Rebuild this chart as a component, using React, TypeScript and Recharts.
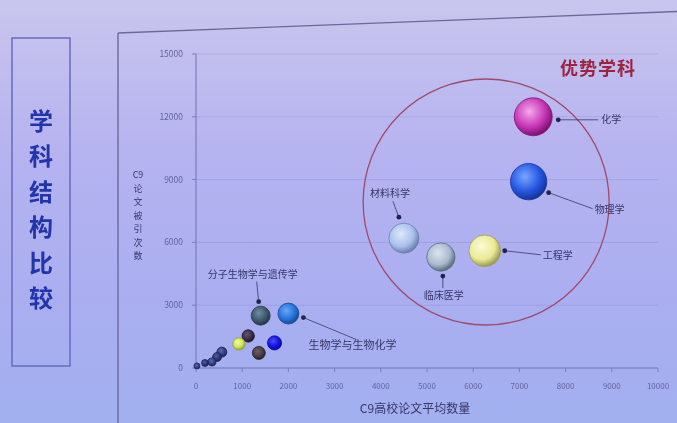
import { ScatterChart, Scatter, XAxis, YAxis, ZAxis, CartesianGrid, ReferenceDot } from "recharts";

// subjects: x = average paper count, y = citations, z = bubble weight
const SUBJECTS = [
  "化学", "物理学", "工程学", "材料科学", "临床医学",
  "生物学与生物化学", "分子生物学与遗传学",
  "", "", "", "", "", "", "", "", "",
];
const PAPERS = [7300, 7200, 6250, 4500, 5300, 2000, 1400, 1700, 1130, 930, 1360, 560, 455, 345, 195, 20];
const CITES = [12000, 8900, 5600, 6200, 5300, 2600, 2500, 1200, 1530, 1150, 720, 760, 525, 290, 240, 100];
const WEIGHT = [3600, 3300, 2500, 2250, 2000, 1100, 900, 500, 380, 380, 420, 250, 200, 160, 120, 90];

const X_TICKS = [0, 1000, 2000, 3000, 4000, 5000, 6000, 7000, 8000, 9000, 10000];
const Y_TICKS = [0, 3000, 6000, 9000, 12000, 15000];

const HIGHLIGHT = { x: 6280, y: 7930, label: "优势学科" };
const X_TITLE = "C9高校论文平均数量";
const Y_TITLE = ["C9", "论", "文", "被", "引", "次", "数"];

const data = SUBJECTS.map((name, i) => ({ idx: i, name, x: PAPERS[i], y: CITES[i], z: WEIGHT[i] }));

// [highlight, body, rim]
const COLORS = [
  ["#f4a8ec", "#c634b4", "#7e1270"],
  ["#7aa6ff", "#2456e2", "#17349a"],
  ["#fbfbd6", "#eaea96", "#9c9c52"],
  ["#dde8fa", "#a8c0ea", "#6a80b0"],
  ["#dde5ee", "#aabace", "#5a6e80"],
  ["#6aa8f4", "#2272da", "#1a4a90"],
  ["#6e8ca2", "#3c566a", "#263646"],
  ["#4a4aff", "#1212e2", "#0a0aa0"],
  ["#64546e", "#3c2c4a", "#20182a"],
  ["#f4ffa0", "#cce254", "#8aa040"],
  ["#6e5e64", "#4a3a42", "#2a2028"],
  ["#5a6ab6", "#303c82", "#202850"],
  ["#4e5aa6", "#2c3678", "#1c2448"],
  ["#5a6ab6", "#34408a", "#202850"],
  ["#4e5aa6", "#2c3678", "#1c2448"],
  ["#5a6ab6", "#34408a", "#202850"],
];

// leader-line offsets (px, relative to bubble centre)
const NOTES: Record<string, { dot: number[]; end: number[]; text: number[]; anchor: string; size?: number }> = {
  "化学": { dot: [25, 3], end: [65, 3], text: [68, 6], anchor: "start" },
  "物理学": { dot: [20, 11], end: [64, 27], text: [66, 31], anchor: "start" },
  "工程学": { dot: [20, 0], end: [56, 4], text: [58, 8], anchor: "start" },
  "材料科学": { dot: [-5, -21], end: [-11, -37], text: [-14, -41], anchor: "middle" },
  "临床医学": { dot: [2, 19], end: [2, 31], text: [3, 42], anchor: "middle" },
  "生物学与生物化学": { dot: [15, 4], end: [68, 26], text: [64, 35], anchor: "middle", size: 11 },
  "分子生物学与遗传学": { dot: [-2, -14], end: [-4, -34], text: [-8, -38], anchor: "middle" },
};

const INK = "#363668";
const FONT = "'Noto Sans CJK SC', 'Noto Sans', sans-serif";

function Bubble(props: any) {
  const { cx, cy, width, payload } = props;
  const r = width / 2;
  const c = COLORS[payload.idx];
  const id = `bub${payload.idx}`;
  const note = NOTES[payload.name];
  return (
    <g>
      <defs>
        <radialGradient id={id} cx="40%" cy="36%" r="64%">
          <stop offset="0%" stopColor={c[0]} />
          <stop offset="65%" stopColor={c[1]} />
          <stop offset="100%" stopColor={c[2]} />
        </radialGradient>
      </defs>
      <circle cx={cx} cy={cy} r={r} fill={`url(#${id})`} stroke={c[2]} strokeWidth={0.8} />
      {note && (
        <g>
          <line x1={cx + note.dot[0]} y1={cy + note.dot[1]} x2={cx + note.end[0]} y2={cy + note.end[1]} stroke={INK} strokeWidth={0.8} />
          <circle cx={cx + note.dot[0]} cy={cy + note.dot[1]} r={2.4} fill="#22224a" />
          <text x={cx + note.text[0]} y={cy + note.text[1]} textAnchor={note.anchor} fontSize={note.size || 10} fill={INK} fontFamily={FONT}>
            {payload.name}
          </text>
        </g>
      )}
    </g>
  );
}

function HighlightRing(props: any) {
  const { cx, cy } = props;
  return <circle cx={cx} cy={cy} r={123} fill="none" stroke="#a04a6a" strokeWidth={1.3} />;
}

export default function App() {
  return (
    <div
      style={{
        position: "absolute", left: 0, top: 0, width: 677, height: 423, overflow: "hidden",
        background: "linear-gradient(180deg, #c9c6ee 0%, #b6b3f0 35%, #aaaef0 70%, #a2b0f0 100%)",
        fontFamily: FONT, filter: "blur(0.4px)",
      }}
    >
      <svg width={677} height={423} style={{ position: "absolute", left: 0, top: 0 }}>
        <line x1={118} y1={33} x2={690} y2={11} stroke="#6a6a9a" strokeWidth={1.4} />
        <line x1={118} y1={33} x2={118} y2={423} stroke="#6a6a9a" strokeWidth={1.4} />
        <rect x={12} y={38} width={58} height={328} fill="none" stroke="#6a6ac0" strokeWidth={1.5} />
      </svg>
      <div style={{ position: "absolute", left: 12, top: 102, width: 58, textAlign: "center", fontSize: 24, fontWeight: 700, color: "#2234ac", lineHeight: "35.4px" }}>
        {"学科结构比较".split("").map((ch, i) => <div key={i}>{ch}</div>)}
      </div>
      <div style={{ position: "absolute", left: 560, top: 54, fontSize: 18, fontWeight: 700, color: "#9c2440", letterSpacing: 1 }}>
        {HIGHLIGHT.label}
      </div>
      <div style={{ position: "absolute", left: 0, top: 0 }}>
        <ScatterChart width={677} height={423} margin={{ top: 54, right: 19, left: 136, bottom: 25 }}>
          <CartesianGrid vertical={false} stroke="rgba(110,110,190,0.22)" />
          <XAxis
            type="number" dataKey="x" domain={[0, 10000]} ticks={X_TICKS} interval={0} height={30}
            tick={{ fontSize: 8, fill: "#62629e" }} tickSize={4} tickMargin={11}
            stroke="#7c7cbc" axisLine={{ stroke: "#7c7cbc", strokeWidth: 1.2 }}
            label={{
              content: ({ viewBox }: any) => (
                <text x={viewBox.x + viewBox.width / 2 - 12} y={viewBox.y + 45} textAnchor="middle" fontSize={12} fill={INK} fontFamily={FONT}>
                  {X_TITLE}
                </text>
              ),
            }}
          />
          <YAxis
            type="number" dataKey="y" domain={[0, 15000]} ticks={Y_TICKS} interval={0} width={60}
            tick={{ fontSize: 8.5, fill: "#62629e" }} tickSize={4} tickMargin={9}
            stroke="#7c7cbc" axisLine={{ stroke: "#7c7cbc", strokeWidth: 1.2 }}
            label={{
              content: ({ viewBox }: any) => (
                <g>
                  {Y_TITLE.map((ch, i) => (
                    <text key={i} x={viewBox.x + 2} y={178 + i * 13.5} textAnchor="middle" fontSize={9} fill={INK} fontFamily={FONT}>
                      {ch}
                    </text>
                  ))}
                </g>
              ),
            }}
          />
          <ZAxis type="number" dataKey="z" domain={[0, 3600]} range={[0, 1131]} />
          <ReferenceDot x={HIGHLIGHT.x} y={HIGHLIGHT.y} r={123} shape={<HighlightRing />} ifOverflow="visible" />
          <Scatter data={data} shape={<Bubble />} isAnimationActive={false} />
        </ScatterChart>
      </div>
    </div>
  );
}
